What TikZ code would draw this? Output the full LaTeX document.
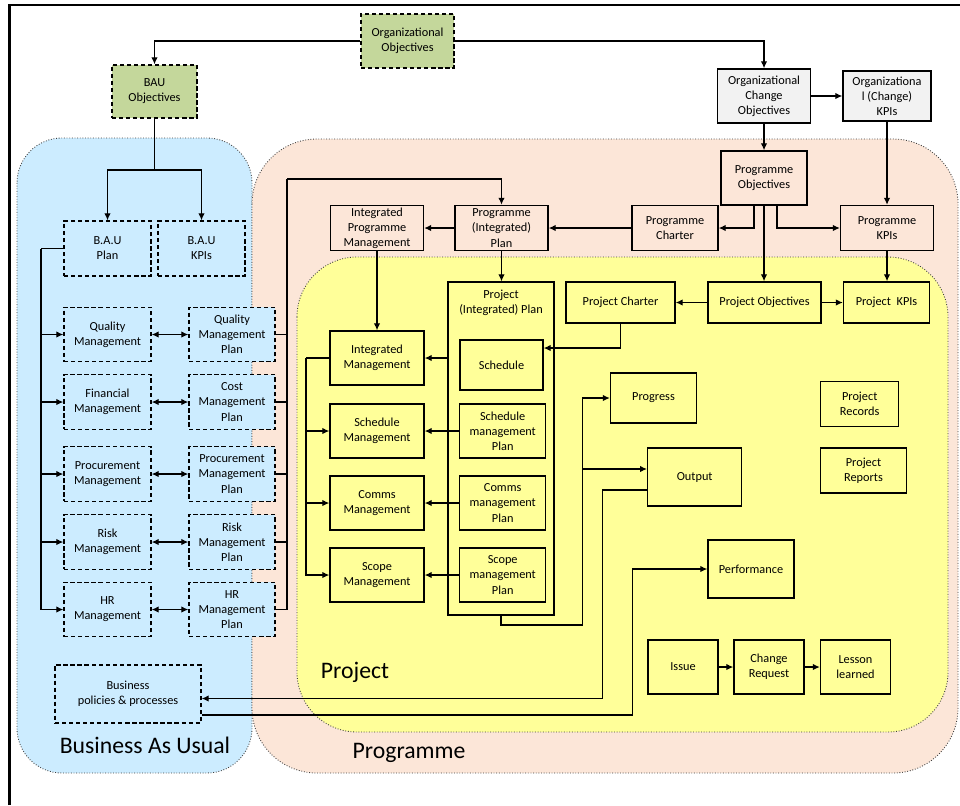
\documentclass[tikz,border=0pt]{standalone}
\usepackage{fontspec}
\setmainfont{Carlito}
\usetikzlibrary{arrows.meta, positioning}
\definecolor{objgreen}{RGB}{196,215,155}
\definecolor{objgray}{RGB}{242,242,242}
\definecolor{baublue}{RGB}{204,236,255}
\definecolor{progpeach}{RGB}{252,230,216}
\definecolor{projyellow}{RGB}{255,255,153}
\newcommand\boxfont{\fontsize{7}{8.6}\selectfont}
\tikzset{
  >={Latex[width=1.3mm,length=1.4mm]},
  base/.style = {rectangle, draw=black, line width=0.8pt, inner sep=1pt,
                 align=center, font=\boxfont},
  objective/.style = {base, dash pattern=on 2.4pt off 1.6pt, fill=objgreen},
  orgbox/.style = {base, fill=objgray},
  baubox/.style = {base, dash pattern=on 2.4pt off 1.6pt, fill=baublue,
                   minimum width=1.74cm, minimum height=1.09cm},
  progbox/.style = {base, fill=progpeach, minimum height=0.9cm},
  projbox/.style = {base, fill=projyellow},
  region/.style = {draw=black!75, densely dotted, line width=0.5pt},
  biglabel/.style = {font=\fontsize{13.5}{16}\selectfont, inner sep=0pt},
  link/.style = {line width=0.7pt},
}

\begin{document}
\begin{tikzpicture}[x=0.02cm, y=-0.02cm, link]
  \useasboundingbox (0,0) rectangle (960,805);

  % regions
  \draw[region, fill=baublue, rounded corners=0.9cm] (17,138) rectangle (252,773);
  \draw[region, fill=progpeach, rounded corners=1.3cm] (252,139) rectangle (958,773);
  \draw[region, fill=projyellow, rounded corners=1.2cm] (297,257) rectangle (948,732);
  \draw[line width=1.2pt] (9.5,805) -- (9.5,5) -- (960,5);

  \node[biglabel] (baulbl) at (145,745) {Business As Usual};
  \node[biglabel] (projlbl) at (355,672) {Project};
  \node[biglabel] (proglbl) at (409,753) {Programme};

  % objectives
  \node (orgobj) [objective, minimum width=1.86cm, minimum height=1.08cm] at (407.5,41) {Organizational\\Objectives};
  \node (bauobj) [objective, minimum width=1.70cm, minimum height=1.06cm] at (154.5,91.5) {BAU\\Objectives};
  \node (orgchg) [orgbox, minimum width=1.86cm, minimum height=1.08cm] at (764,96) {Organizational\\Change\\Objectives};
  \node (orgkpi) [orgbox, minimum width=1.76cm, minimum height=1.00cm] at (887,96) {Organizationa\\l (Change)\\KPIs};

  % business as usual
  \node (bauplan) [baubox, minimum height=1.10cm] at (107.5,248.5) {B.A.U\\Plan};
  \node (baukpi) [baubox, minimum height=1.10cm] at (201.5,248.5) {B.A.U\\KPIs};
  \node (qualm) [baubox] at (107.5,334.5) {Quality\\Management};
  \node (finm) [baubox] at (107.5,402) {Financial\\Management};
  \node (procm) [baubox] at (107.5,474) {Procurement\\Management};
  \node (riskm) [baubox] at (107.5,542) {Risk\\Management};
  \node (hrm) [baubox] at (107.5,609.5) {HR\\Management};
  \node (qualp) [baubox, minimum width=1.72cm] at (232,334.5) {Quality\\Management\\Plan};
  \node (costp) [baubox, minimum width=1.72cm] at (232,402) {Cost\\Management\\Plan};
  \node (procp) [baubox, minimum width=1.72cm] at (232,474) {Procurement\\Management\\Plan};
  \node (riskp) [baubox, minimum width=1.72cm] at (232,542) {Risk\\Management\\Plan};
  \node (hrp) [baubox, minimum width=1.72cm] at (232,609.5) {HR\\Management\\Plan};
  \node (buspol) [baubox, minimum width=2.92cm, minimum height=1.16cm] at (128,694) {Business\\policies \& processes};

  % programme
  \node (intprog) [progbox, minimum width=1.86cm] at (377,228) {Integrated\\Programme\\Management};
  \node (progplan) [progbox, minimum width=1.86cm] at (501.5,228) {Programme\\(Integrated)\\Plan};
  \node (progchart) [progbox, minimum width=1.72cm] at (675,228) {Programme\\Charter};
  \node (progobj) [progbox, minimum width=1.72cm, minimum height=1.08cm] at (764,178) {Programme\\Objectives};
  \node (progkpi) [progbox, minimum width=1.86cm] at (887,228) {Programme\\KPIs};

  % project
  \node (projplan) [projbox, minimum width=2.12cm, minimum height=6.66cm,
    label={[anchor=north, align=center, font=\boxfont, inner sep=4.5pt]north:{Project\\(Integrated) Plan}}]
    at (501,448.5) {};
  \node (sched) [projbox, minimum width=1.66cm, minimum height=1.00cm] at (501.5,365) {Schedule};
  \node (schedp) [projbox, minimum width=1.72cm, minimum height=1.08cm] at (502.7,431) {Schedule\\management\\Plan};
  \node (commsp) [projbox, minimum width=1.72cm, minimum height=1.08cm] at (502.7,503) {Comms\\management\\Plan};
  \node (scopep) [projbox, minimum width=1.72cm, minimum height=1.08cm] at (502.7,575) {Scope\\management\\Plan};
  \node (intm) [projbox, minimum width=1.88cm, minimum height=1.08cm] at (377,358) {Integrated\\Management};
  \node (schedm) [projbox, minimum width=1.88cm, minimum height=1.08cm] at (377,431) {Schedule\\Management};
  \node (commsm) [projbox, minimum width=1.88cm, minimum height=1.08cm] at (377,503) {Comms\\Management};
  \node (scopem) [projbox, minimum width=1.88cm, minimum height=1.08cm] at (377,575) {Scope\\Management};
  \node (projchart) [projbox, minimum width=2.18cm, minimum height=0.82cm] at (620.5,302.5) {Project Charter};
  \node (projobj) [projbox, minimum width=2.26cm, minimum height=0.82cm] at (764.5,302.5) {Project Objectives};
  \node (projkpi) [projbox, minimum width=1.72cm, minimum height=0.82cm] at (886.5,302.5) {Project\ \ KPIs};
  \node (progress) [projbox, minimum width=1.72cm, minimum height=1.00cm] at (653.5,398) {Progress};
  \node (output) [projbox, minimum width=1.88cm, minimum height=1.16cm] at (694.7,477) {Output};
  \node (perf) [projbox, minimum width=1.72cm, minimum height=1.16cm] at (751,569) {Performance};
  \node (projrec) [projbox, minimum width=1.56cm, minimum height=0.90cm] at (859.7,404) {Project\\Records};
  \node (projrep) [projbox, minimum width=1.72cm, minimum height=0.90cm] at (863.5,470.5) {Project\\Reports};
  \node (issue) [projbox, minimum width=1.40cm, minimum height=1.08cm] at (683,667) {Issue};
  \node (chreq) [projbox, minimum width=1.40cm, minimum height=1.08cm] at (769,667) {Change\\Request};
  \node (lesson) [projbox, minimum width=1.40cm, minimum height=1.08cm] at (855.5,667) {Lesson\\learned};

  % connectors at the top
  \draw[->] (orgobj.west) -| (bauobj.north);
  \draw[->] (orgobj.east) -| (orgchg.north);
  \draw[->] (orgchg) -- (orgkpi);
  \draw[->] (orgchg) -- (progobj);
  \draw[->] (orgkpi.south) -- (orgkpi.south |- progkpi.north);
  \draw[->] ([xshift=-0.2cm]progobj.south) |- (progchart.east);
  \draw[->] ([xshift=0.26cm]progobj.south) |- (progkpi.west);
  \draw[->] (progobj.south) -- (progobj.south |- projobj.north);
  \draw[->] (progchart) -- (progplan);
  \draw[->] (progplan) -- (intprog);
  \draw[->] (progplan.south) -- (progplan.south |- projplan.north);
  \draw[->] (intprog) -- (intm);
  \draw[->] (progkpi.south) -- (progkpi.south |- projkpi.north);
  \draw[->] (projobj) -- (projchart);
  \draw[->] (projobj) -- (projkpi);
  \draw[->] (projchart.south) |- ([yshift=0.34cm]sched.east);

  % business as usual
  \coordinate (bsplit) at (154.5,170);
  \draw (bauobj.south) -- (bsplit);
  \draw[->] (bsplit) -| (bauplan.north);
  \draw[->] (bsplit) -| (baukpi.north);
  \coordinate (btrunk) at (41,248.5);
  \draw (bauplan.west) -- (btrunk);
  \foreach \n in {qualm,finm,procm,riskm,hrm}
    \draw[->] (btrunk) |- (\n.west);
  \foreach \a/\b in {qualm/qualp,finm/costp,procm/procp,riskm/riskp,hrm/hrp}
    \draw[<->] (\a) -- (\b);
  \coordinate (gtrunk) at (287,179);
  \foreach \n in {qualp,costp,procp,riskp,hrp}
    \draw[line width=1.1pt] (\n.east) -| (gtrunk);
  \draw[->, line width=1.1pt] (gtrunk) -| (progplan.north);

  % project
  \draw[->] (projplan.west |- intm) -- (intm.east);
  \draw[->] (schedp) -- (schedm);
  \draw[->] (commsp) -- (commsm);
  \draw[->] (scopep) -- (scopem);
  \coordinate (ptrunk) at (306,358);
  \draw (intm.west) -- (ptrunk);
  \foreach \n in {schedm,commsm,scopem}
    \draw[->] (ptrunk) |- (\n.west);
  \coordinate (ploop) at (582.7,625);
  \draw (projplan.south) |- (ploop);
  \draw[->] (ploop) |- (progress.west);
  \draw[->] (ploop) |- ([yshift=0.16cm]output.west);
  \coordinate (oturn) at (602.7,698.5);
  \draw[->] ([yshift=-0.26cm]output.west) -| (oturn) -- (oturn -| buspol.east);
  \coordinate (bturn) at (632.7,715);
  \draw[->] (buspol.east |- bturn) -- (bturn) |- (perf.west);
  \draw[->] (issue) -- (chreq);
  \draw[->] (chreq) -- (lesson);

\end{tikzpicture}
\end{document}
